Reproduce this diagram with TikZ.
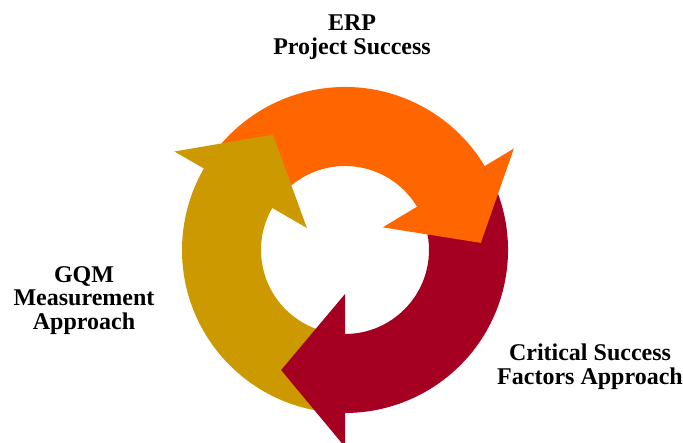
\documentclass[tikz,border=0pt]{standalone}
\usepackage{fontspec}
\setmainfont{Liberation Serif}
\usepackage{tikz}
\usetikzlibrary{positioning}

\definecolor{erporange}{RGB}{255,102,0}
\definecolor{csfred}{RGB}{165,0,33}
\definecolor{gqmgold}{RGB}{204,153,0}

\tikzset{
  cycletext/.style={font=\fontsize{24}{23.5}\selectfont\bfseries, align=center, inner sep=0pt},
}

\begin{document}
\begin{tikzpicture}[x=1pt, y=1pt]

      \useasboundingbox (0,0) rectangle (683,443);
      \coordinate (c) at (345,193);

      \begin{scope}[shift={(c)}]
        % ring segments first, so every head lies on the next tail
        \fill[gqmgold] (270:163) arc[start angle=270, end angle=150, radius=163] -- (150:84) arc[start angle=150, end angle=270, radius=84] -- cycle;
        \fill[csfred] (31:163) arc[start angle=31, end angle=-90, radius=163] -- (-90:84) arc[start angle=-90, end angle=31, radius=84] -- cycle;
        \fill[erporange] (150:163) arc[start angle=150, end angle=31, radius=163] -- (31:84) arc[start angle=31, end angle=150, radius=84] -- cycle;

        % arrow heads
        \fill[erporange] (31:44) -- (31:197) -- (3:136) -- cycle;
        \fill[csfred] (270:44) -- (270:197) -- (242:136) -- cycle;
        \fill[gqmgold] (150:44) -- (150:197) -- (122:136) -- cycle;
      \end{scope}

      \node[cycletext, anchor=north] (erp) at (352,428) {ERP\\Project Success};

      \node[cycletext, anchor=north] (csf) at (590,99) {Critical Success\\Factors Approach};

      \node[cycletext, anchor=north] (gqm) at (84,177) {GQM\\Measurement\\Approach};

\end{tikzpicture}
\end{document}
